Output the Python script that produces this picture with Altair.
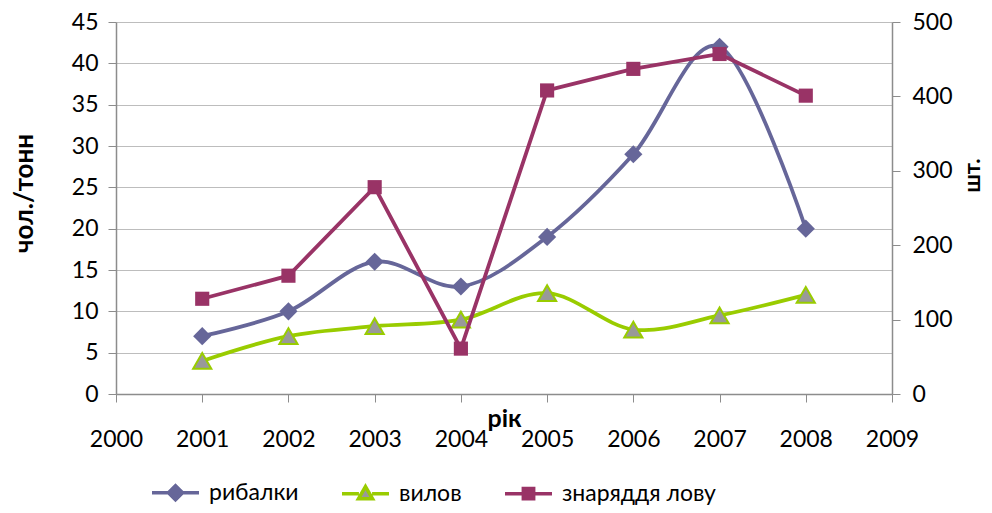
import altair as alt
import pandas as pd

years = [2001, 2002, 2003, 2004, 2005, 2006, 2007, 2008]
fishermen = [7, 10, 16, 13, 19, 29, 42, 20]
catch = [4, 7, 8.2, 9, 12.2, 7.8, 9.5, 12]
gear = [128, 159, 278, 61, 408, 437, 457, 401]
series_names = ["рибалки", "вилов", "знаряддя лову"]
x_ticks = list(range(2000, 2010))
left_ticks = list(range(0, 50, 5))
right_ticks = list(range(0, 600, 100))

C_FISH = "#666699"
C_CATCH = "#99CC00"
C_TRI = "#999999"
C_GEAR = "#993366"
FONT = "Lato"
AX = "#8C8C8C"

df = pd.DataFrame({"year": years, "fishermen": fishermen, "catch": catch, "gear": gear})

x_enc = alt.X(
    "year:Q",
    scale=alt.Scale(domain=[2000, 2009], nice=False, zero=False),
    axis=alt.Axis(
        values=x_ticks, format="d", title="рік", grid=False, labelFlush=False, labelOverlap=False,
        labelFont=FONT, labelFontSize=23, labelColor="black", labelPadding=26,
        tickSize=8, tickColor=AX, domainColor=AX, domainWidth=1.5,
        titleFont=FONT, titleFontSize=25, titleFontWeight="bold", titleColor="black",
        titleY=32, titleBaseline="alphabetic",
    ),
)

left_axis = alt.Axis(
    values=left_ticks, title="чол./тонн", grid=True, gridColor="#BDBDBD", gridWidth=1.2,
    labelFont=FONT, labelFontSize=23, labelColor="black", labelPadding=10, labelFlush=False,
    tickSize=8, tickColor=AX, domainColor=AX, domainWidth=1.5,
    titleFont=FONT, titleFontSize=26, titleFontWeight="bold", titleColor="black",
    titleX=-92, titleY=171, titleAngle=270, titleAlign="center", titleBaseline="middle",
)
right_axis = alt.Axis(
    values=right_ticks, title="шт.", grid=False, orient="right", labelFlush=False,
    labelFont=FONT, labelFontSize=23, labelColor="black", labelPadding=12,
    tickSize=8, tickColor=AX, domainColor=AX, domainWidth=1.5,
    titleFont=FONT, titleFontSize=22, titleFontWeight="bold", titleColor="black",
    titleX=87, titleY=153, titleAngle=270, titleAlign="center", titleBaseline="alphabetic",
)

ly = dict(scale=alt.Scale(domain=[0, 45], nice=False), axis=left_axis)
ry = dict(scale=alt.Scale(domain=[0, 500], nice=False), axis=right_axis)

base = alt.Chart(df)

fish_line = base.mark_line(interpolate="cardinal", strokeWidth=3.8, color=C_FISH).encode(
    x=x_enc, y=alt.Y("fishermen:Q", **ly))
fish_pts = base.mark_point(shape="diamond", filled=True, size=330, color=C_FISH, opacity=1).encode(
    x=x_enc, y=alt.Y("fishermen:Q", **ly))
catch_line = base.mark_line(interpolate="cardinal", strokeWidth=3.8, color=C_CATCH).encode(
    x=x_enc, y=alt.Y("catch:Q", **ly))
catch_pts = base.mark_point(shape="triangle-up", filled=True, size=330, fill=C_TRI,
                            stroke=C_CATCH, strokeWidth=2, opacity=1).encode(
    x=x_enc, y=alt.Y("catch:Q", **ly))

gear_line = base.mark_line(strokeWidth=3.8, color=C_GEAR).encode(
    x=x_enc, y=alt.Y("gear:Q", **ry))
gear_pts = base.mark_point(shape="square", filled=True, size=200, color=C_GEAR, opacity=1).encode(
    x=x_enc, y=alt.Y("gear:Q", **ry))

left = alt.layer(fish_line, catch_line, fish_pts, catch_pts)
right = alt.layer(gear_line, gear_pts)

# legend-only layer: symbols are line + marker paths
leg_df = pd.DataFrame({"series": series_names})
paths = [
    "M-1,0L1,0M0,-0.3L0.3,0L0,0.3L-0.3,0Z",
    "M-1,0L-0.28,0M0.28,0L1,0M0,-0.3L0.3,0.22L-0.3,0.22Z",
    "M-1,0L1,0M-0.22,-0.22L0.22,-0.22L0.22,0.22L-0.22,0.22Z",
]
legend_layer = alt.Chart(leg_df).transform_filter("false").mark_point(filled=True, opacity=1).encode(
    fill=alt.Fill("series:N", scale=alt.Scale(domain=series_names, range=[C_FISH, C_TRI, C_GEAR]),
                  title=None),
    stroke=alt.Stroke("series:N", scale=alt.Scale(domain=series_names, range=[C_FISH, C_CATCH, C_GEAR]),
                      title=None),
    shape=alt.Shape("series:N", scale=alt.Scale(domain=series_names, range=paths), title=None,
                    legend=alt.Legend(
                        orient="none", legendX=34, legendY=445, direction="horizontal",
                        symbolSize=2209, symbolStrokeWidth=3.5, labelFont=FONT, labelFontSize=23,
                        labelColor="black", labelOffset=8, columnPadding=36, padding=0,
                        symbolOpacity=1)),
)

chart = alt.layer(left, right, legend_layer).resolve_scale(y="independent").properties(
    width=776, height=372,
    autosize=alt.AutoSizeParams(type="none"),
    padding={"left": 108, "top": 14, "right": 92, "bottom": 111},
).configure_view(stroke=None).configure_legend(
    symbolSize=2209, symbolStrokeWidth=3.5, labelFont=FONT, labelFontSize=23
)

chart.save("out.html", embed_options={"renderer": "svg", "actions": False})
